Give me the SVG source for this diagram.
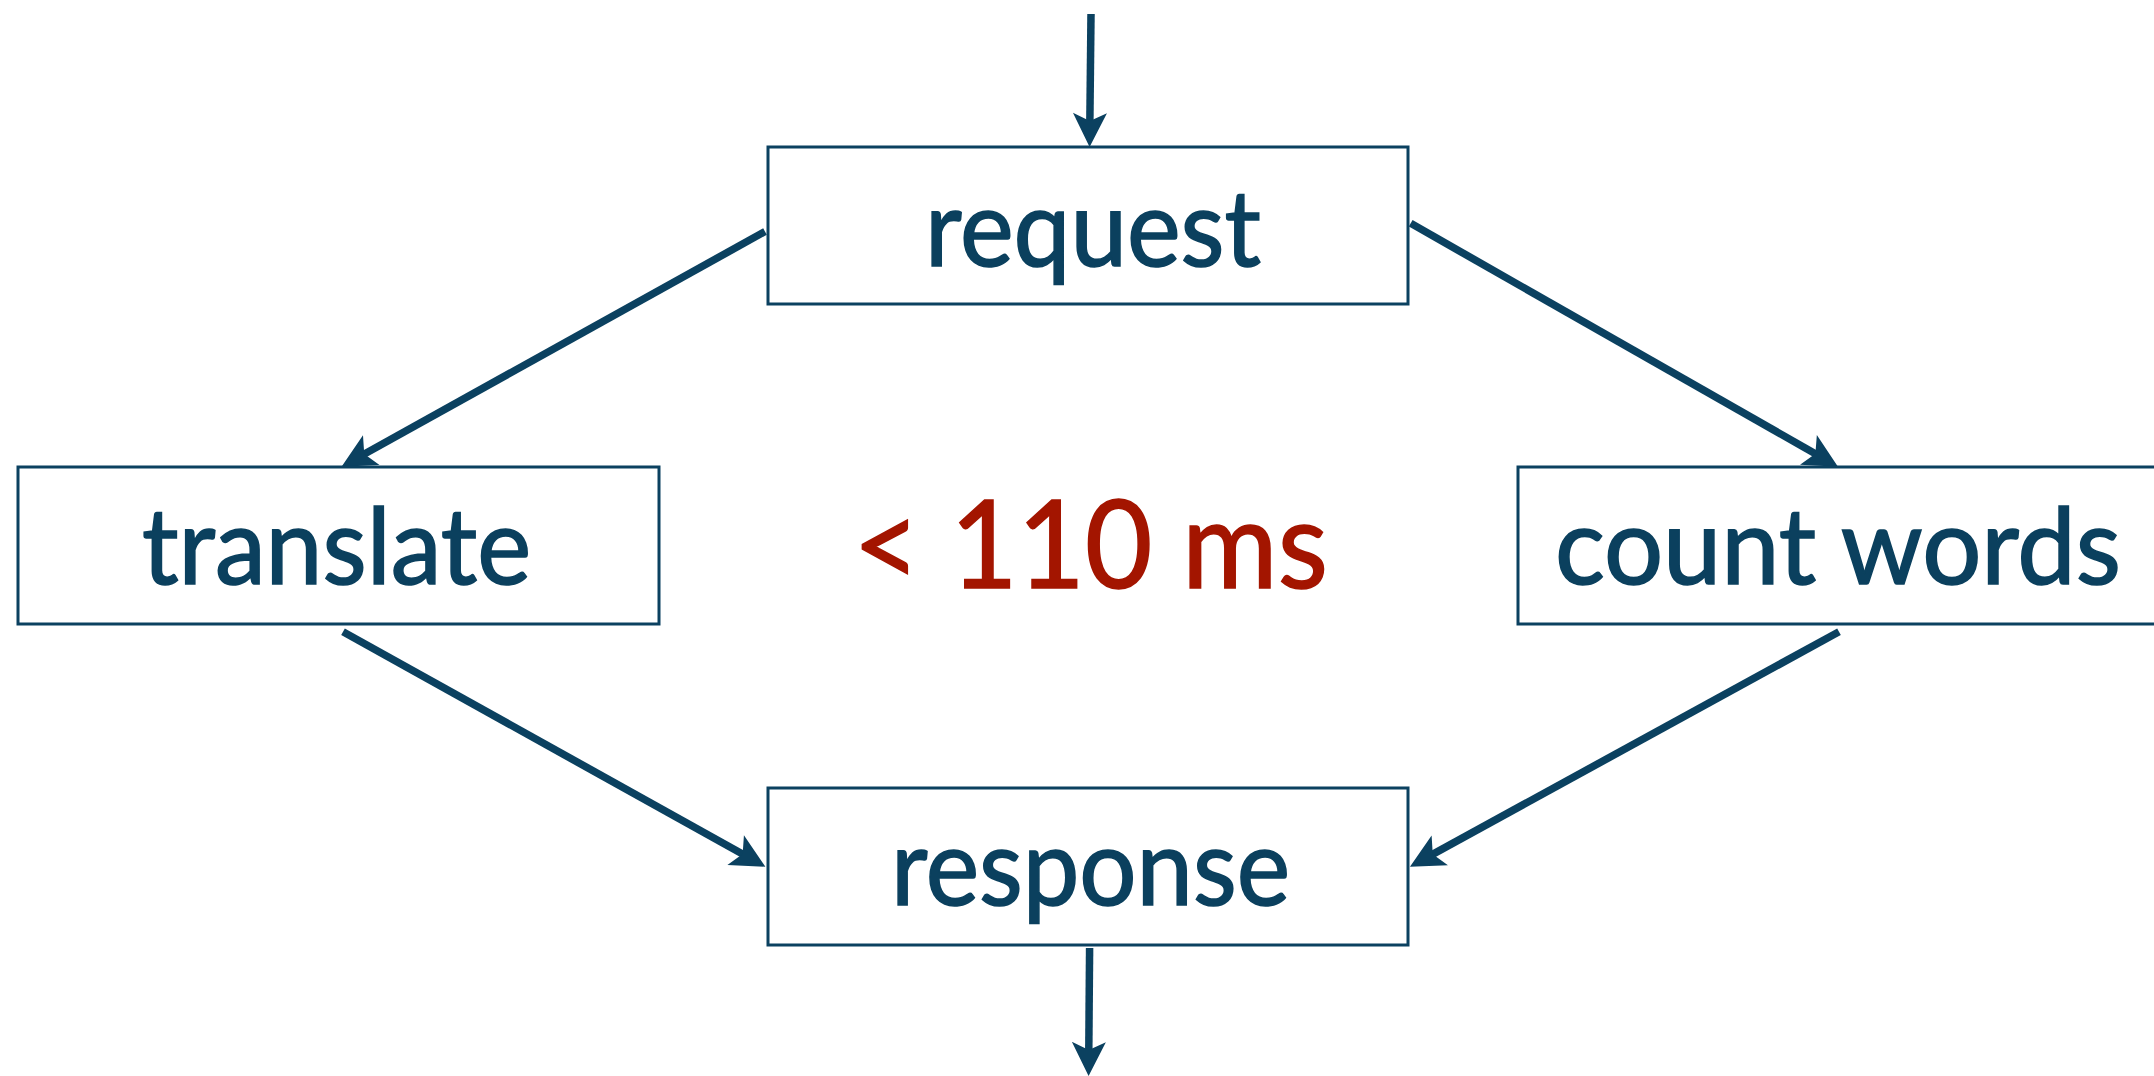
<svg xmlns="http://www.w3.org/2000/svg" width="2154" height="1076" viewBox="0 0 2154 1076">
  <style>
    .box { fill: #ffffff; stroke: #0b4160; stroke-width: 3; }
    .lbl { font-family: Lato, "Open Sans", "DejaVu Sans", sans-serif; font-size: 106px; fill: #0b405e; stroke: #0b405e; stroke-width: 1.6; }
    .lat { font-family: Lato, "Open Sans", "DejaVu Sans", sans-serif; font-size: 122px; fill: #a31500; stroke: #a31500; stroke-width: 1.6; }
    .edge { stroke: #0b4160; stroke-width: 7.5; fill: none; marker-end: url(#ah); }
  </style>
  <defs>
    <marker id="ah" markerUnits="userSpaceOnUse" viewBox="-20 -20 44 40" markerWidth="44" markerHeight="40" refX="0" refY="0" orient="auto">
      <path d="M20,0 L-14,-17 L-6,0 L-14,17 Z" fill="#0b4160"/>
    </marker>
  </defs>
  <rect width="2154" height="1076" fill="#ffffff"/>

  <g id="connectors">
    <line class="edge" x1="1091" y1="14" x2="1089.8" y2="127"/>
    <line class="edge" x1="765" y1="231.5" x2="359.0" y2="457.0"/>
    <line class="edge" x1="1410.7" y1="223.3" x2="1820.6" y2="456.8"/>
    <line class="edge" x1="343" y1="631.7" x2="747.9" y2="857.0"/>
    <line class="edge" x1="1839" y1="631.7" x2="1427.5" y2="857.1"/>
    <line class="edge" x1="1089.6" y1="948" x2="1088.75" y2="1056"/>
  </g>

  <g id="request">
    <rect class="box" x="768" y="147" width="640" height="157"/>
    <text class="lbl" x="925" y="266" textLength="336" lengthAdjust="spacingAndGlyphs">request</text>
  </g>
  <g id="translate">
    <rect class="box" x="18" y="467" width="641" height="157"/>
    <text class="lbl" x="142" y="584" textLength="389" lengthAdjust="spacingAndGlyphs">translate</text>
  </g>
  <g id="count-words">
    <rect class="box" x="1518" y="467" width="641" height="157"/>
    <text class="lbl" x="1555" y="584" textLength="566" lengthAdjust="spacingAndGlyphs">count words</text>
  </g>
  <g id="response">
    <rect class="box" x="768" y="788" width="640" height="157"/>
    <text class="lbl" x="891" y="905" textLength="399" lengthAdjust="spacingAndGlyphs">response</text>
  </g>
  <g id="latency">
    <text class="lat" x="853" y="588" textLength="475" lengthAdjust="spacingAndGlyphs">&lt; 110 ms</text>
  </g>
</svg>
